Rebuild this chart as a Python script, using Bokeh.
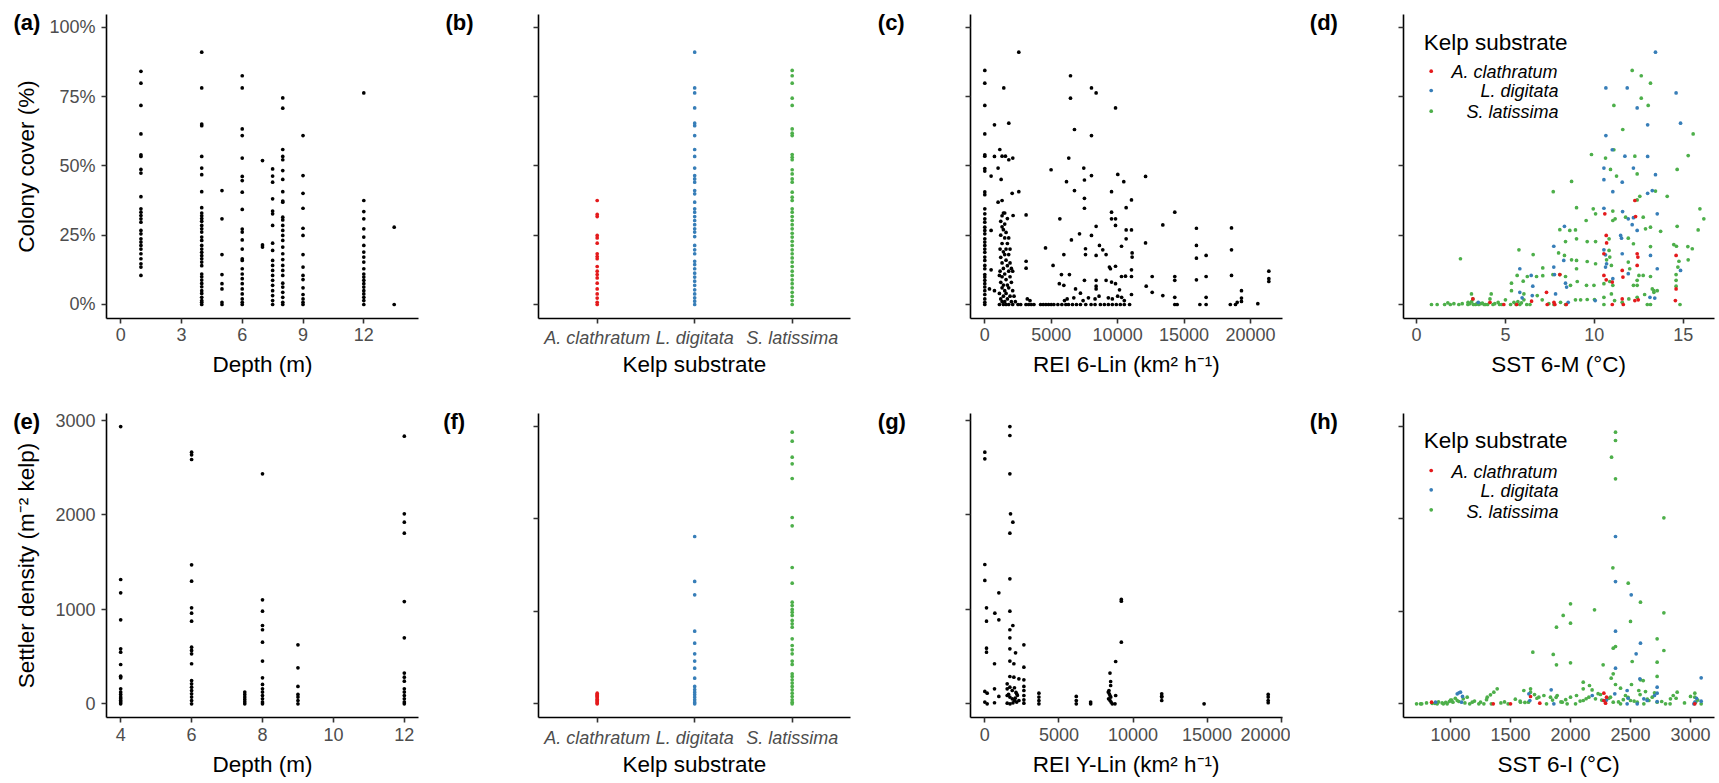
import math
from bokeh.plotting import figure
from bokeh.layouts import row, column
from bokeh.models import Range1d, FixedTicker, NumeralTickFormatter, CustomJSTickFormatter, Label
from bokeh.embed import file_html
from bokeh.resources import INLINE

FONT = "Liberation Sans"
RED, BLUE, GREEN = "#E41A1C", "#377EB8", "#4DAF4A"
KELP = ["A. clathratum", "L. digitata", "S. latissima"]
KELP_POS = [1, 2, 3]

# ---------------- data: colony cover (fraction) ----------------
depth_levels_a = [1, 4, 5, 6, 7, 7.5, 8, 9, 12, 13.5]
cover_d1 = [0.841,0.798,0.718,0.615,0.540,0.534,0.487,0.474,0.389,0.345,0.333,0.321,0.309,0.297,0.267,0.255,0.237,0.225,0.213,0.200,0.183,0.165,0.147,0.135,0.105]
cover_d4 = [0.910,0.781,0.651,0.645,0.534,0.492,0.468,0.407,0.349,0.330,0.320,0.310,0.300,0.285,0.273,0.261,0.243,0.231,0.213,0.200,0.188,0.176,0.165,0.153,0.140,0.110,0.100,0.088,0.076,0.064,0.050,0.040,0.026,0.014,0.008,0.0]
cover_d5 = [0.411,0.309,0.180,0.108,0.075,0.056,0.008,0.0]
cover_d6 = [0.825,0.781,0.633,0.609,0.528,0.462,0.447,0.405,0.343,0.272,0.261,0.233,0.200,0.165,0.159,0.129,0.110,0.093,0.075,0.056,0.038,0.020,0.008,0.0]
cover_d7 = [0.519,0.215,0.207]
cover_d75 = [0.489,0.463,0.441,0.381,0.337,0.327,0.285,0.221,0.195,0.159,0.141,0.123,0.105,0.087,0.069,0.050,0.032,0.014,0.0]
cover_d8 = [0.745,0.708,0.559,0.534,0.522,0.483,0.451,0.407,0.373,0.369,0.315,0.305,0.285,0.267,0.249,0.231,0.207,0.183,0.162,0.141,0.123,0.105,0.077,0.063,0.044,0.026,0.008,0.0]
cover_d9 = [0.609,0.465,0.401,0.347,0.275,0.249,0.180,0.135,0.105,0.090,0.060,0.036,0.020,0.008,0.0]
cover_d12 = [0.763,0.375,0.335,0.309,0.273,0.243,0.213,0.189,0.171,0.153,0.129,0.110,0.099,0.087,0.075,0.063,0.050,0.038,0.026,0.014,0.0]
cover_d135 = [0.279,0.0]
cover_by_depth = [cover_d1, cover_d4, cover_d5, cover_d6, cover_d7, cover_d75, cover_d8, cover_d9, cover_d12, cover_d135]

cover_acla = [0.375,0.325,0.317,0.249,0.240,0.221,0.183,0.173,0.165,0.137,0.120,0.108,0.096,0.077,0.056,0.038,0.023,0.008,0.0]
cover_ldig = [0.910,0.781,0.763,0.709,0.654,0.645,0.609,0.559,0.534,0.492,0.465,0.453,0.441,0.411,0.399,0.369,0.345,0.333,0.317,0.303,0.288,0.273,0.261,0.245,0.213,0.197,0.183,0.156,0.144,0.129,0.113,0.099,0.084,0.069,0.053,0.038,0.024,0.012,0.0]
cover_slat = [0.844,0.825,0.798,0.744,0.718,0.633,0.618,0.609,0.541,0.531,0.522,0.486,0.471,0.453,0.441,0.405,0.387,0.375,0.345,0.333,0.317,0.303,0.288,0.273,0.257,0.243,0.228,0.213,0.197,0.183,0.168,0.153,0.137,0.120,0.105,0.089,0.075,0.060,0.044,0.029,0.014,0.0]

rei6_zero_cover = [0.844,0.798,0.718,0.615,0.540,0.535,0.490,0.481,0.406,0.396,0.345,0.327,0.309,0.297,0.279,0.267,0.255,0.237,0.225,0.213,0.200,0.188,0.171,0.159,0.141,0.129,0.108,0.099,0.087,0.075,0.063,0.050,0.036,0.020,0.008,0.0]
rei6_x = [1100,1100,1100,1150,1150,1200,1200,1200,1200,1200,1300,1300,1300,1300,1300,1300,1300,1400,1400,1400,1400,1400,1400,1400,1500,1500,1500,1500,1500,1500,1500,1600,1600,1600,1600,1600,1600,1700,1700,1700,1700,1700,1800,1800,1800,1800,1800,1900,1900,1900,1900,2000,2000,2000,2100,2100,2100,2200,2300,2500,2700,
          2560,1430,728,1807,6450,6450,8030,8380,9840,6750,8030,1130,728,1300,1555,1807,2108,6320,1000,475,1230,4990,7450,8030,7500,6150,10010,10460,12100,6750,9540,2060,2560,1000,1300,7500,7500,11040,10640,14300,3110,2130,5650,9540,9540,9840,9840,13400,15930,18570,8380,7130,10640,11040,6520,8030,12100,10640,4570,7580,8630,8880,5950,7580,8380,9130,10290,11090,11090,15930,15930,16660,18570,5140,3110,3110,5770,6370,5610,5950,6830,7200,7500,8380,8380,8380,9130,9380,9460,9840,9540,9840,10140,10290,10590,11040,11040,11040,12150,12600,12600,14300,14300,13400,15930,16660,18570,19320,19320,19320,21380,21380,21380,14300,14300,14480,16190,16660,16660,18480,18870,19000,20550,475,475,350,728,
          3100,3300,3500,3700,4200,4400,4600,4800,5000,5200,5500,5800,6100,6300,6600,6900,7200,7600,8000,8300,8700,9000,9300,9600,9900,10200,10500,10900,3200,3400,6000,6200,6700,7400,7800,8300,8600,9300,9600,10000,10300,10500]
rei6_cover = [0.105,0.04,0.0,0.2,0.12,0.3,0.25,0.17,0.08,0.02,0.32,0.28,0.22,0.15,0.1,0.06,0.01,0.33,0.27,0.19,0.13,0.07,0.03,0.0,0.33,0.29,0.24,0.18,0.11,0.05,0.01,0.26,0.2,0.16,0.09,0.04,0.0,0.31,0.22,0.14,0.07,0.02,0.24,0.18,0.12,0.06,0.0,0.2,0.15,0.1,0.03,0.13,0.08,0.01,0.12,0.05,0.0,0.03,0.01,0.0,0.0,
              0.91,0.781,0.648,0.654,0.825,0.744,0.781,0.763,0.709,0.631,0.609,0.559,0.534,0.535,0.535,0.522,0.528,0.528,0.492,0.463,0.451,0.486,0.492,0.465,0.449,0.443,0.469,0.443,0.462,0.411,0.407,0.401,0.407,0.369,0.375,0.383,0.347,0.377,0.349,0.333,0.323,0.321,0.309,0.333,0.309,0.309,0.285,0.287,0.275,0.276,0.282,0.255,0.269,0.269,0.233,0.249,0.222,0.237,0.204,0.201,0.213,0.197,0.18,0.18,0.177,0.18,0.21,0.186,0.171,0.213,0.167,0.177,0.197,0.141,0.156,0.131,0.108,0.108,0.075,0.069,0.056,0.041,0.087,0.087,0.066,0.056,0.087,0.135,0.129,0.138,0.081,0.075,0.053,0.101,0.102,0.101,0.125,0.036,0.066,0.101,0.044,0.101,0.087,0.032,0.089,0.101,0.105,0.05,0.023,0.011,0.12,0.093,0.083,0.026,0.0,0.0,0.0,0.026,0.0,0.0,0.0,0.008,0.003,0.267,0.125,0.056,0.05,
              0,0,0,0,0,0,0,0,0,0,0,0,0,0,0,0,0,0,0,0,0,0,0,0,0,0,0,0,0.02,0.014,0.014,0.02,0.024,0.014,0.024,0.02,0.03,0.024,0.02,0.03,0.026,0.014]

sst6m_red = [12.28,10.59,12.32,10.67,10.69,10.54,12.41,12.45,14.6,12.41,11.57,10.54,10.67,11.61,11.01,14.6,8.06,7.31,7.73,7.78,8.42,7.35,6.47,5.63,11.63,11.01,11.57,12.28,12.47,14.56,3.17,4.13,4.91]
cover_red = [0.375,0.327,0.317,0.249,0.222,0.183,0.183,0.171,0.177,0.141,0.123,0.105,0.089,0.099,0.081,0.056,0.108,0.044,0.008,0.0,0.0,0.0,0.012,0.0,0.0,0.0,0.02,0.014,0.017,0.014,0.02,0.008,0.0]
sst6m_blue = [13.44,10.65,11.85,14.6,12.41,14.85,13.0,10.65,11.01,11.72,13.0,10.54,12.2,10.54,11.57,13.44,13.26,13.0,11.04,10.54,11.59,12.2,11.91,12.41,13.54,12.13,11.48,11.53,8.32,7.72,8.28,10.54,10.63,11.57,13.16,13.54,14.85,10.63,10.69,11.91,11.04,5.81,6.45,6.54,7.72,7.76,8.38,8.44,5.81,5.94,6.51,7.82,8.53,10.05,3.47,13.13,13.4]
cover_blue = [0.91,0.781,0.781,0.763,0.709,0.654,0.648,0.609,0.558,0.535,0.534,0.492,0.492,0.45,0.441,0.468,0.411,0.401,0.407,0.347,0.335,0.313,0.309,0.267,0.327,0.288,0.249,0.239,0.282,0.21,0.159,0.197,0.179,0.183,0.177,0.129,0.123,0.135,0.147,0.111,0.093,0.129,0.105,0.066,0.135,0.108,0.077,0.063,0.044,0.024,0.032,0.038,0.008,0.014,0.008,0.026,0.023]
sst6m_green = [12.13,12.64,13.16,12.64,11.1,13.03,11.6,15.56,9.84,10.63,11.1,12.28,12.41,15.28,14.66,10.91,11.25,8.72,7.69,13.44,14.1,12.56,12.41,9.0,9.94,10.07,11.04,9.54,11.04,11.17,11.76,12.75,15.94,16.16,15.84,14.66,12.88,13.16,13.73,13.16,8.06,8.62,8.94,8.38,9.0,9.6,10.07,10.83,11.91,12.2,14.47,14.62,15.26,15.51,15.28,14.76,14.7,14.6,14.6,14.6,14.82,5.76,6.56,7.1,7.99,8.32,8.72,9.0,9.0,9.6,10.07,10.69,10.83,10.87,10.96,10.87,11.04,11.91,11.99,12.51,12.75,13.16,13.26,13.35,6.23,6.75,7.1,7.67,8.06,8.38,8.66,9.04,9.56,9.98,10.54,12.2,12.41,12.41,5.34,5.34,5.66,6.0,6.04,6.79,0.84,1.16,1.58,1.76,1.9,2.1,2.38,2.57,2.47,2.89,3.09,3.17,3.32,3.6,3.88,4.13,4.2,4.4,4.59,4.67,5.0,5.29,5.48,5.81,6.04,6.38,7.07,7.44,7.73,8.1,8.38,8.94,9.23,9.6,10.01,10.54,10.54,10.96,11.14,11.57,11.94,12.41,12.83,12.98,13.16,13.54,13.35,3.0,3.2,3.4,3.5,3.8,4.0,4.3,2.9,3.1,5.6,5.7,5.9,6.2,4.8,3.7]
cover_green = [0.844,0.825,0.798,0.744,0.718,0.718,0.631,0.615,0.541,0.528,0.558,0.535,0.471,0.537,0.487,0.487,0.463,0.444,0.407,0.409,0.39,0.39,0.377,0.349,0.345,0.327,0.337,0.303,0.303,0.309,0.315,0.315,0.345,0.309,0.269,0.282,0.273,0.279,0.264,0.209,0.27,0.267,0.269,0.227,0.237,0.227,0.227,0.237,0.239,0.219,0.216,0.21,0.209,0.201,0.161,0.156,0.135,0.108,0.087,0.066,0.0,0.197,0.18,0.132,0.186,0.177,0.161,0.159,0.129,0.155,0.147,0.161,0.195,0.171,0.141,0.083,0.069,0.153,0.129,0.105,0.105,0.101,0.056,0.05,0.101,0.101,0.104,0.108,0.108,0.101,0.069,0.083,0.069,0.069,0.075,0.069,0.087,0.069,0.077,0.05,0.105,0.084,0.038,0.032,0.0,0.0,0.0,0.006,0.0,0.003,0.0,0.003,0.165,0.0,0.038,0.02,0.0,0.003,0.0,0.02,0.038,0.003,0.008,0.0,0.017,0.0,0.008,0.0,0.017,0.0,0.017,0.003,0.0,0.008,0.0,0.017,0.017,0.018,0.018,0.026,0.0,0.038,0.014,0.008,0.02,0.026,0.036,0.0,0.0,0.05,0.044,0.003,0.0,0.003,0.0,0.0,0.0,0.0,0.008,0.01,0.0,0.01,0.006,0.0,0.0,0.005]

# ---------------- data: settler density (m^-2 kelp) ----------------
depth_levels_e = [4, 6, 7.5, 8, 9, 12]
dens_d4 = [2936,1316,1175,889,582,547,416,293,275,159,124,99,71,53,35,18,0]
dens_d6 = [2664,2636,2587,1472,1299,1016,960,875,600,565,529,424,247,212,176,141,106,71,35,0]
dens_d75 = [124,99,71,46,21,0]
dens_d8 = [2435,1101,981,829,784,653,452,275,205,159,124,88,53,18,0]
dens_d9 = [625,381,184,99,71,35,0]
dens_d12 = [2834,2012,1923,1807,1083,699,325,282,240,159,124,88,53,18,0]
dens_by_depth = [dens_d4, dens_d6, dens_d75, dens_d8, dens_d9, dens_d12]

dens_acla = [115,101,90,78,65,50,36,22,10,0]
dens_ldig = [1810,1324,1179,786,656,541,462,386,278,188,155,126,101,72,43,18,0]
dens_slat = [2939,2842,2668,2596,2438,2016,1926,1475,1305,1100,1064,1021,992,956,902,865,829,703,631,584,541,462,426,325,296,260,224,188,151,115,79,43,18,0]

reiy_x = [1690,1690,0,0,1690,1734,1892,1690,0,0,1690,946,113,676,113,946,1690,1892,1690,1690,2635,1690,2072,1690,1959,113,113,653,2635,1690,1959,2297,2635,2635,2635,2635,2635,2635,0,158,0,158,653,653,946,
          1509,1509,1690,1850,2000,2150,1509,1690,1850,2000,2150,1509,1700,1900,2050,2200,2300,2100,1600,3649,3649,3649,3649,6171,6171,6171,7140,7140,8446,8491,8491,8378,8330,8400,8450,8500,8350,8450,8520,8600,8784,8829,8829,9212,9212,9212,11937,11937,11937,11937,14797,19122,19122,19122,19122]
reiy_dens = [2936,2841,2664,2594,2435,2012,1923,1807,1475,1306,1323,1175,1016,960,875,889,981,829,784,699,625,582,540,452,424,589,547,424,388,289,282,265,254,184,141,88,42,7,131,113,18,0,159,11,78,
             212,159,176,141,170,106,88,71,53,35,18,7,0,10,60,90,35,120,100,113,71,35,0,78,35,0,18,0,325,236,194,141,124,106,88,71,53,35,18,0,0,88,448,1087,1105,653,81,106,71,35,0,11,99,71,35,0]

sst6i_red = [2278,2300,2278,1744,1500,1356,842,1667,3036,2292]
dens_red = [115,72,36,7,0,0,18,79,0,7]
sst6i_blue = [2375,2375,2506,2375,2583,2547,2375,3089,2722,2722,2722,3089,3036,2611,2472,2472,2369,2278,2181,1839,1861,1661,1653,1083,1056,1092,875,2556,3028,
              2578,2639,1100,1070,2300,2480,2700,3050]
dens_blue = [1810,1323,1179,786,656,541,386,281,180,115,25,29,18,54,144,0,108,36,90,151,0,36,108,126,108,18,18,0,0,
             270,36,80,120,40,60,90,60]
sst6i_green = [2375,2375,2342,2375,2778,2353,2481,2583,2000,2200,1939,1883,2000,2500,2778,1686,1856,1883,2000,2272,2514,2722,2778,2722,2722,2356,2375,2339,2356,2375,2583,2606,2508,2106,2106,2158,2417,2569,2625,2889,2833,3036,3036,
               1389,1361,1333,1306,1250,1278,1236,1181,1139,1106,1056,1020,972,930,889,847,750,717,990,1010,
               1667,1667,1611,1583,1650,1736,1778,1833,1889,1931,1972,2000,2042,2106,2153,2208,2250,2292,2333,2356,2417,2458,2500,2556,2611,2653,2681,2722,2792,2856,3042,3089,
               760,800,870,900,940,960,1000,1040,1070,1120,1160,1200,1300,1340,1420,1450,1480,1540,1580,1620,1700,1720,1800,1850,1880,1920,1960,2050,2080,2130,2180,2230,2260,2320,2400,2440,2480,2530,2580,2640,2700,2760,2830,2880,2950,3000,3060]
dens_green = [2939,2849,2668,2434,2012,1471,1305,1100,1082,1017,956,829,873,891,984,559,534,422,444,422,458,703,577,451,296,602,620,278,325,209,260,252,209,234,162,198,169,144,133,126,54,115,72,
              162,126,97,72,18,0,0,18,72,54,36,18,0,10,0,5,0,0,25,40,
              162,126,144,18,18,72,90,72,90,18,0,72,0,36,72,54,101,36,72,18,0,90,36,18,0,36,72,18,0,90,18,0,
              0,10,5,20,0,15,40,60,25,10,0,30,45,0,10,20,0,50,30,15,100,60,0,40,70,20,45,90,30,55,150,110,40,60,20,45,70,30,100,50,120,25,0,60,10,80,40]

# ---------------- layout geometry (pixels inside each cell) ----------------
COL_W = [430, 430, 430, 428]
ROW_H = [390, 392]
COL_LR = [(106, 418), (107.7, 420), (110, 421.7), (112.7, 424)]
ROW_TB = [(14, 318), (23, 327)]
XTITLE_ANCHOR = [364, 374]   # anchor of x-axis titles, from cell top
S = 3.7


def make_panel(ci, ri, xd, yd):
    W, H = COL_W[ci], ROW_H[ri]
    l, r = COL_LR[ci]
    t, b = ROW_TB[ri]
    sx = (r - l) / (xd[1] - xd[0])
    sy = (b - t) / (yd[1] - yd[0])
    xr = Range1d(xd[0] - l / sx, xd[1] + (W - r) / sx)
    yr = Range1d(yd[0] - (H - b) / sy, yd[1] + t / sy)
    p = figure(width=W, height=H, x_range=xr, y_range=yr, min_border=0,
               output_backend="svg", toolbar_location=None)
    p.xgrid.visible = False
    p.ygrid.visible = False
    p.outline_line_color = None
    p.background_fill_color = "white"
    p.border_fill_color = "white"
    for ax in (p.xaxis[0], p.yaxis[0]):
        ax.axis_line_color = "black"
        ax.axis_line_width = 1.6
        ax.major_tick_line_color = "#333333"
        ax.major_tick_line_width = 1.6
        ax.major_tick_in = 0
        ax.major_tick_out = 5
        ax.minor_tick_line_color = None
        ax.major_label_text_font = FONT
        ax.major_label_text_font_size = "18px"
        ax.major_label_text_color = "#4D4D4D"
    p.xaxis[0].fixed_location = yd[0]
    p.xaxis[0].bounds = (xd[0], xd[1])
    p.yaxis[0].fixed_location = xd[0]
    p.yaxis[0].bounds = (yd[0], yd[1])
    p.yaxis[0].major_label_standoff = 6
    p.xaxis[0].major_label_standoff = 4 if ri == 0 else 5
    p._px = lambda px: xr.start + px * (xr.end - xr.start) / W
    p._py = lambda py: yr.end - py * (yr.end - yr.start) / H
    p._H = H
    p._xc = (l + r) / 2
    p._yc = (t + b) / 2
    p._ri = ri
    return p


def text_at(p, txt, x, y_from_top, size, style="normal", align="left", baseline="middle", angle=0.0):
    p.add_layout(Label(x=x, y=p._H - y_from_top, x_units="screen", y_units="screen", text=txt,
                       text_font=FONT, text_font_size=size, text_font_style=style,
                       text_baseline=baseline, text_align=align, text_color="black", angle=angle))


def x_title(p, txt):
    text_at(p, txt, p._xc, XTITLE_ANCHOR[p._ri], "22.5px", align="center", baseline="alphabetic")


def y_title(p, txt, x_base):
    text_at(p, txt, x_base, p._yc, "22.5px", align="center", baseline="alphabetic", angle=math.pi / 2)


def panel_label(p, txt, x, ycenter):
    text_at(p, txt, x, ycenter, "22px", style="bold")


def hide_y_labels(p):
    p.yaxis[0].formatter = CustomJSTickFormatter(code="return ''")


def kelp_legend(p, title_y, dot_ys, label_ys):
    text_at(p, "Kelp substrate", 133.3, title_y, "22.5px")
    label_x = [161, 190, 176]
    for lab, col, dy, ly, lx in zip(KELP, [RED, BLUE, GREEN], dot_ys, label_ys, label_x):
        p.scatter([p._px(140.7)], [p._py(dy)], size=S, color=col, line_color=None)
        text_at(p, lab, lx, ly, "18px", style="italic")


pct_ticks = FixedTicker(ticks=[0, 0.25, 0.5, 0.75, 1.0])
dens_ticks = FixedTicker(ticks=[0, 1000, 2000, 3000])
Y_COVER = (-0.0505, 1.0458)
kelp_labels = {pos: name for pos, name in zip(KELP_POS, KELP)}

# ---------------- (a) ----------------
pa = make_panel(0, 0, (-0.7, 14.7), Y_COVER)
ax_x, ax_y = [], []
for d, vals in zip(depth_levels_a, cover_by_depth):
    ax_x += [d] * len(vals)
    ax_y += vals
pa.scatter(ax_x, ax_y, size=S, color="black", line_color=None)
pa.xaxis[0].ticker = FixedTicker(ticks=[0, 3, 6, 9, 12])
pa.yaxis[0].ticker = pct_ticks
pa.yaxis[0].formatter = NumeralTickFormatter(format="0%")
x_title(pa, "Depth (m)")
y_title(pa, "Colony cover (%)", 26)
panel_label(pa, "(a)", 13, 21.7)

# ---------------- (b) ----------------
pb = make_panel(1, 0, (0.395, 3.598), Y_COVER)
for pos, vals, col in zip(KELP_POS, [cover_acla, cover_ldig, cover_slat], [RED, BLUE, GREEN]):
    pb.scatter([pos] * len(vals), vals, size=S, color=col, line_color=None)
pb.xaxis[0].ticker = FixedTicker(ticks=KELP_POS)
pb.xaxis[0].major_label_overrides = kelp_labels
pb.xaxis[0].major_label_text_font_style = "italic"
pb.yaxis[0].ticker = pct_ticks
hide_y_labels(pb)
x_title(pb, "Kelp substrate")
panel_label(pb, "(b)", 15, 21.7)

# ---------------- (c) ----------------
pc = make_panel(2, 0, (-1076, 22386), Y_COVER)
pc.scatter([0] * len(rei6_zero_cover) + rei6_x, rei6_zero_cover + rei6_cover, size=S, color="black", line_color=None)
pc.xaxis[0].ticker = FixedTicker(ticks=[0, 5000, 10000, 15000, 20000])
pc.yaxis[0].ticker = pct_ticks
hide_y_labels(pc)
x_title(pc, "REI 6-Lin (km² h⁻¹)")
panel_label(pc, "(c)", 17.3, 21.7)

# ---------------- (d) ----------------
pd_ = make_panel(3, 0, (-0.75, 16.76), Y_COVER)
pd_.scatter(sst6m_green, cover_green, size=S, color=GREEN, line_color=None)
pd_.scatter(sst6m_blue, cover_blue, size=S, color=BLUE, line_color=None)
pd_.scatter(sst6m_red, cover_red, size=S, color=RED, line_color=None)
pd_.xaxis[0].ticker = FixedTicker(ticks=[0, 5, 10, 15])
pd_.yaxis[0].ticker = pct_ticks
hide_y_labels(pd_)
x_title(pd_, "SST 6-M (°C)")
panel_label(pd_, "(d)", 19.3, 21.7)
kelp_legend(pd_, 41.7, [70.7, 90, 110.7], [71.7, 90, 111.7])

# ---------------- (e) ----------------
pe = make_panel(0, 1, (3.6, 12.4), (-145, 3074))
ex, ey = [], []
for d, vals in zip(depth_levels_e, dens_by_depth):
    ex += [d] * len(vals)
    ey += vals
pe.scatter(ex, ey, size=S, color="black", line_color=None)
pe.xaxis[0].ticker = FixedTicker(ticks=[4, 6, 8, 10, 12])
pe.yaxis[0].ticker = dens_ticks
x_title(pe, "Depth (m)")
y_title(pe, "Settler density (m⁻² kelp)", 26.3)
panel_label(pe, "(e)", 12.7, 30.7)

# ---------------- (f) ----------------
pf = make_panel(1, 1, (0.395, 3.598), (-148, 3141))
for pos, vals, col in zip(KELP_POS, [dens_acla, dens_ldig, dens_slat], [RED, BLUE, GREEN]):
    pf.scatter([pos] * len(vals), vals, size=S, color=col, line_color=None)
pf.xaxis[0].ticker = FixedTicker(ticks=KELP_POS)
pf.xaxis[0].major_label_overrides = kelp_labels
pf.xaxis[0].major_label_text_font_style = "italic"
pf.yaxis[0].ticker = dens_ticks
hide_y_labels(pf)
x_title(pf, "Kelp substrate")
panel_label(pf, "(f)", 12.7, 30.7)

# ---------------- (g) ----------------
pg = make_panel(2, 1, (-967, 20067), (-145, 3074))
pg.scatter(reiy_x, reiy_dens, size=S, color="black", line_color=None)
pg.xaxis[0].ticker = FixedTicker(ticks=[0, 5000, 10000, 15000, 20000])
pg.yaxis[0].ticker = dens_ticks
hide_y_labels(pg)
x_title(pg, "REI Y-Lin (km² h⁻¹)")
panel_label(pg, "(g)", 17.3, 30.7)

# ---------------- (h) ----------------
ph = make_panel(3, 1, (605.6, 3200), (-148, 3141))
ph.scatter(sst6i_green, dens_green, size=S, color=GREEN, line_color=None)
ph.scatter(sst6i_blue, dens_blue, size=S, color=BLUE, line_color=None)
ph.scatter(sst6i_red, dens_red, size=S, color=RED, line_color=None)
ph.xaxis[0].ticker = FixedTicker(ticks=[1000, 1500, 2000, 2500, 3000])
ph.yaxis[0].ticker = dens_ticks
hide_y_labels(ph)
x_title(ph, "SST 6-I (°C)")
panel_label(ph, "(h)", 19.3, 30.7)
kelp_legend(ph, 50, [80, 99.3, 119.3], [81, 100, 121])

layout = column(row(pa, pb, pc, pd_), row(pe, pf, pg, ph))
open("out.html", "w").write(file_html(layout, INLINE))
